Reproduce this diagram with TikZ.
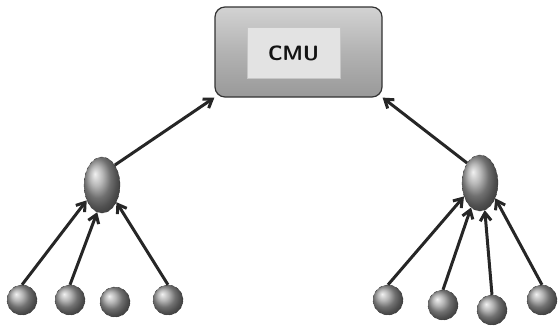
\documentclass[tikz,border=0pt]{standalone}
\usepackage{tikz}
\usetikzlibrary{shapes, arrows.meta, positioning, calc}

\begin{document}
\begin{tikzpicture}[x=1pt, y=-1pt,
  cmubox/.style={draw=gray!40!black, line width=1.2pt, rounded corners=10pt, minimum width=167pt, minimum height=90pt, top color=gray!35, bottom color=gray!80, middle color=gray!60},
  cmuin/.style={fill=gray!22, draw=gray!45, minimum width=93pt, minimum height=51pt, font=\sffamily\bfseries\huge, text=gray!15!black},
  chd/.style={ellipse, draw=gray!40!black, dashed, ball color=gray!75, minimum width=36pt, minimum height=56pt, inner sep=0pt},
  sen/.style={circle, draw=gray!40!black, dashed, ball color=gray!75, minimum size=30pt, inner sep=0pt},
  lnk/.style={-{Straight Barb[length=8pt, width=11pt]}, line width=3pt, black!85}
]
  \useasboundingbox (0,0) rectangle (558,333);

  % central unit
  \node[cmubox] (cmu) at (298.5,52) {};
  \node[cmuin] (cmut) at (293.5,53) {CMU};

  % cluster heads
  \node[chd] (hl) at (102,185) {};
  \node[chd] (hr) at (480,183) {};

  % sensors
  \node[sen] (l1) at (22,300) {};
  \node[sen] (l2) at (70,300) {};
  \node[sen] (l3) at (115,302) {};
  \node[sen] (l4) at (168,300) {};
  \node[sen] (r1) at (388,300) {};
  \node[sen] (r2) at (443,305) {};
  \node[sen] (r3) at (492,310) {};
  \node[sen] (r4) at (542,300) {};

  % links
  \draw[lnk] (hl.north east) -- (cmu.south west);
  \draw[lnk] (hr.north west) -- (cmu.south east);
  \foreach \s/\a in {l1/-135, l2/-100, l4/-50}
    \draw[lnk] (\s.north) -- (hl.\a);
  \foreach \s/\a in {r1/-140, r2/-110, r3/-80, r4/-45}
    \draw[lnk] (\s.north) -- (hr.\a);
\end{tikzpicture}
\end{document}
